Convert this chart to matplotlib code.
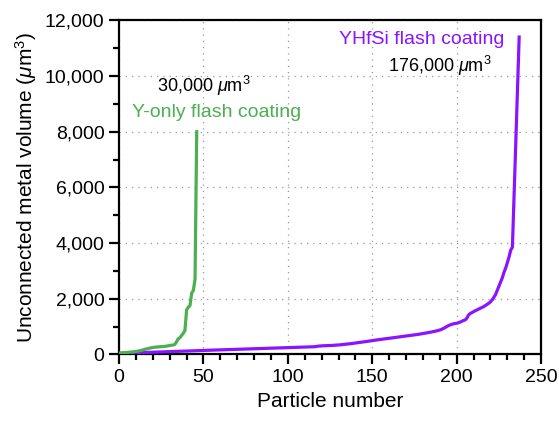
import matplotlib
matplotlib.use("Agg")
import matplotlib.pyplot as plt
from matplotlib.ticker import MultipleLocator, FuncFormatter

plt.rcParams['font.family'] = ['Liberation Sans', 'DejaVu Sans']
plt.rcParams['mathtext.fontset'] = 'custom'
plt.rcParams['mathtext.rm'] = 'Liberation Sans'
plt.rcParams['mathtext.it'] = 'Liberation Sans:italic'

# sorted unconnected metal volume per particle (um^3)
y_only = [50, 55, 60, 65, 70, 75, 80, 85, 90, 100,
          110, 120, 130, 145, 160, 180, 195, 210, 225, 240,
          250, 260, 265, 270, 275, 280, 285, 290, 300, 310,
          320, 330, 340, 360, 450, 560, 600, 680, 760, 850,
          1600, 1700, 1750, 2200, 2300, 2700, 8000]

yhfsi = [40, 42, 44, 46, 48, 50, 52, 54, 56, 58,
         60, 62, 64, 66, 68, 70, 72, 74, 76, 78,
         80, 82, 84, 86, 88, 90, 92, 94, 96, 98,
         100, 102, 104, 106, 108, 110, 112, 114, 116, 118,
         120, 123, 125, 128, 130, 133, 135, 138, 140, 143,
         145, 147, 149, 151, 153, 155, 157, 159, 161, 163,
         165, 167, 169, 171, 173, 175, 177, 179, 181, 183,
         185, 187, 189, 191, 193, 195, 197, 199, 201, 203,
         205, 207, 209, 211, 213, 215, 217, 219, 221, 223,
         225, 227, 229, 231, 233, 235, 237, 239, 241, 243,
         245, 247, 249, 251, 253, 255, 257, 259, 261, 263,
         265, 267, 269, 271, 273, 275, 278, 290, 300, 305,
         310, 312, 314, 316, 318, 320, 324, 328, 332, 336,
         340, 346, 352, 358, 364, 370, 378, 386, 394, 402,
         410, 418, 426, 434, 442, 450, 460, 470, 480, 490,
         500, 508, 516, 524, 532, 540, 548, 556, 564, 572,
         580, 588, 596, 604, 612, 620, 628, 636, 644, 652,
         660, 668, 676, 684, 692, 700, 710, 720, 730, 740,
         750, 760, 770, 782, 794, 806, 818, 830, 845, 860,
         880, 900, 930, 960, 1000, 1030, 1060, 1080, 1100, 1110,
         1120, 1140, 1160, 1190, 1220, 1240, 1300, 1420, 1470, 1500,
         1540, 1570, 1600, 1630, 1660, 1690, 1720, 1760, 1800, 1840,
         1890, 1960, 2050, 2150, 2300, 2450, 2600, 2750, 2950, 3100,
         3300, 3500, 3750, 3850, 5700, 7600, 9500, 11400]

green = '#4CAF50'
purple = '#8A14FF'

fig = plt.figure(figsize=(5.59, 4.24), dpi=100)
ax = fig.add_axes([0.213, 0.164, 0.755, 0.788])

ax.plot(range(len(yhfsi)), yhfsi, color=purple, lw=2.3, zorder=3)
ax.plot(range(len(y_only)), y_only, color=green, lw=2.3, zorder=4)

ax.set_xlim(0, 250)
ax.set_ylim(0, 12000)
ax.xaxis.set_major_locator(MultipleLocator(50))
ax.xaxis.set_minor_locator(MultipleLocator(10))
ax.yaxis.set_major_locator(MultipleLocator(2000))
ax.yaxis.set_minor_locator(MultipleLocator(1000))
ax.yaxis.set_major_formatter(FuncFormatter(lambda v, p: f'{int(v):,}'))

ax.grid(True, which='major', linestyle=(0, (1, 4)), color='#999999', lw=0.9)
ax.set_axisbelow(True)
for s in ax.spines.values():
    s.set_linewidth(1.6)
ax.tick_params(which='major', direction='out', length=7, width=1.6, labelsize=14)
ax.tick_params(which='minor', direction='out', length=4, width=1.6)

ax.set_xlabel('Particle number', fontsize=15)
ax.set_ylabel(r'Unconnected metal volume ($\mu$m$^3$)', fontsize=15)

ax.text(50, 9650, r'30,000 $\mu$m$^3$', fontsize=13, ha='center', va='center')
ax.text(58, 8700, 'Y-only flash coating', fontsize=14, color=green, ha='center', va='center')
ax.text(179, 11330, 'YHfSi flash coating', fontsize=14, color=purple, ha='center', va='center')
ax.text(190, 10350, r'176,000 $\mu$m$^3$', fontsize=13, ha='center', va='center')

fig.savefig('out.png', dpi=100)
